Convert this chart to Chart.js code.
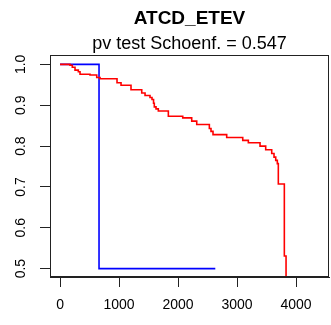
<!DOCTYPE html>
<html>
<head>
<meta charset="utf-8">
<title>ATCD_ETEV</title>
<script src="https://cdn.jsdelivr.net/npm/chart.js@4.4.1/dist/chart.umd.min.js"></script>
<style>
  html, body { margin: 0; padding: 0; background: #fff; }
  canvas { display: block; }
</style>
</head>
<body>
<canvas id="chartCanvas" width="331" height="325"></canvas>
<script>
"use strict";

// Kaplan-Meier steps: time of each drop and survival right after it
const redTimes = [0, 169, 208, 254, 310, 339, 508, 622, 678, 966, 1034, 1203, 1385, 1441, 1525, 1559,
    1585, 1598, 1627, 1666, 1836, 2080, 2232, 2317, 2531, 2559, 2593, 2825, 3097, 3192, 3390,
    3486, 3588, 3627, 3656, 3683, 3700, 3802, 3831];
const redSurv = [1.0, 0.998, 0.993, 0.986, 0.982, 0.976, 0.974, 0.968, 0.965, 0.955, 0.949, 0.938, 0.930, 0.924, 0.919, 0.914,
    0.905, 0.896, 0.891, 0.886, 0.873, 0.869, 0.861, 0.853, 0.843, 0.836, 0.828, 0.821, 0.814, 0.808, 0.800,
    0.791, 0.782, 0.773, 0.765, 0.757, 0.707, 0.531, 0.0];

const blueTimes = [0, 661, 2632];
const blueSurv = [1.0, 0.5, 0.5];

const xTicks = [0, 1000, 2000, 3000, 4000];
const yTicks = [0.5, 0.6, 0.7, 0.8, 0.9, 1.0];

const toPoints = (xs, ys) => xs.map((x, i) => ({ x: x, y: ys[i] }));

// plot frame like base graphics box()
const boxPlugin = {
    id: 'box',
    afterDraw(chart) {
        const a = chart.chartArea;
        const c = chart.ctx;
        c.save();
        c.strokeStyle = '#222';
        c.lineWidth = 1;
        c.strokeRect(Math.round(a.left) + 0.5, Math.round(a.top) + 0.5,
            Math.round(a.right - a.left) - 1, Math.round(a.bottom - a.top) - 1);
        c.restore();
    }
};

const ctx = document.getElementById('chartCanvas');

new Chart(ctx, {
    type: 'line',
    data: {
        datasets: [{
            data: toPoints(redTimes, redSurv),
            borderColor: '#ff0000',
            borderWidth: 1.6,
            stepped: true,
            pointRadius: 0,
            fill: false
        }, {
            data: toPoints(blueTimes, blueSurv),
            borderColor: '#0000ff',
            borderWidth: 1.6,
            stepped: true,
            pointRadius: 0,
            fill: false
        }]
    },
    options: {
        responsive: false,
        animation: false,
        layout: { padding: { right: 2 } },
        font: { family: "'Liberation Sans', Arial, sans-serif" },
        plugins: {
            legend: { display: false },
            tooltip: { enabled: false },
            title: {
                display: true,
                text: 'ATCD_ETEV',
                fullSize: false,
                color: '#000',
                font: { family: "'Liberation Sans', Arial, sans-serif", size: 19, weight: 'bold' },
                padding: { top: 7, bottom: 0 }
            },
            subtitle: {
                display: true,
                text: 'pv test Schoenf. = 0.547',
                fullSize: false,
                color: '#000',
                font: { family: "'Liberation Sans', Arial, sans-serif", size: 18 },
                padding: { top: 3, bottom: 1 }
            }
        },
        scales: {
            x: {
                type: 'linear',
                min: -170,
                max: 4559,
                afterBuildTicks: (s) => { s.ticks = xTicks.map(v => ({ value: v })); },
                afterFit: (s) => { s.height = 48; },
                grid: { drawOnChartArea: false, drawTicks: true, tickLength: 10, color: '#222' },
                border: { display: true, color: '#222' },
                ticks: {
                    color: '#000',
                    padding: 10,
                    maxRotation: 0,
                    callback: (v) => String(v),
                    font: { family: "'Liberation Sans', Arial, sans-serif", size: 14 }
                }
            },
            y: {
                type: 'linear',
                min: 0.4795,
                max: 1.022,
                afterBuildTicks: (s) => { s.ticks = yTicks.map(v => ({ value: v })); },
                afterFit: (s) => { s.width = 50; },
                grid: { drawOnChartArea: false, drawTicks: true, tickLength: 10, color: '#222' },
                border: { display: true, color: '#222' },
                ticks: {
                    color: '#000',
                    padding: 9,
                    crossAlign: 'center',
                    minRotation: 90,
                    maxRotation: 90,
                    callback: (v) => v.toFixed(1),
                    font: { family: "'Liberation Sans', Arial, sans-serif", size: 14 }
                }
            }
        }
    },
    plugins: [boxPlugin]
});
</script>
</body>
</html>
